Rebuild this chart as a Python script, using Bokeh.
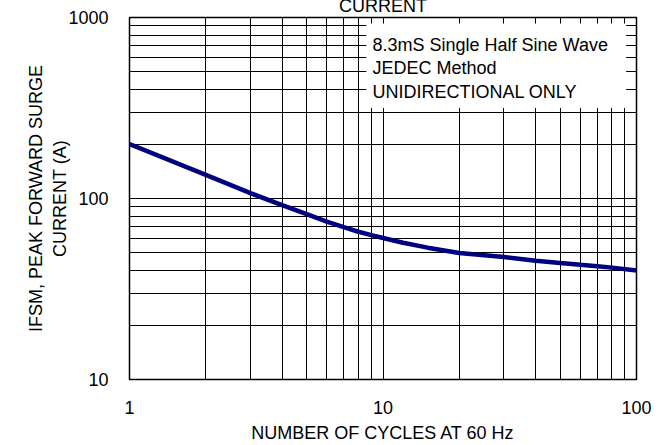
from bokeh.plotting import figure
from bokeh.models import FixedTicker, BoxAnnotation, Label
from bokeh.embed import file_html
from bokeh.resources import INLINE

# data
cycles = [1, 2, 3, 4, 5, 6, 7, 8, 9, 10, 12, 15, 20, 30, 40, 50, 60, 70, 80, 100]
ifsm = [200, 135, 107, 92, 82, 74.5, 69.5, 65.5, 62.8, 60.5, 57, 53.5, 50, 47.5, 45.3, 44, 43, 42.2, 41.5, 40]

x_major = [1, 10, 100]
x_minor = [2, 3, 4, 5, 6, 7, 8, 9, 20, 30, 40, 50, 60, 70, 80, 90]
y_major = [10, 100, 1000]
y_minor = [20, 30, 40, 50, 60, 70, 80, 90, 200, 300, 400, 500, 600, 700, 800, 900]

title_text = "CURRENT"
x_title = "NUMBER OF CYCLES AT 60 Hz"
y_title = "IFSM, PEAK FORWARD SURGE\nCURRENT (A)"

notes = ["8.3mS Single Half Sine Wave", "JEDEC Method", "UNIDIRECTIONAL ONLY"]
note_y = [701, 524, 386]
note_x = 9.09
box_left, box_right, box_bottom, box_top = 8.6, 91.0, 316, 927

FONT = "Liberation Sans"
FS = "18px"

p = figure(width=667, height=455, x_axis_type="log", y_axis_type="log",
           x_range=(1, 100), y_range=(10, 1000),
           output_backend="svg", toolbar_location=None,
           min_border_left=129, min_border_right=31,
           min_border_top=27, min_border_bottom=65)
p.margin = (-10, 0, 0, 0)
p.background_fill_color = "white"
p.border_fill_color = "white"
p.outline_line_color = "black"
p.outline_line_width = 1.5

p.title.text = title_text
p.title.align = "center"
p.title.text_font = FONT
p.title.text_font_size = FS
p.title.text_font_style = "normal"
p.title.text_color = "black"
p.title.standoff = 4
p.title.vertical_align = "bottom"

p.xaxis.ticker = FixedTicker(ticks=x_major, minor_ticks=x_minor)
p.yaxis.ticker = FixedTicker(ticks=y_major, minor_ticks=y_minor)
p.xaxis.major_label_overrides = {1: "1", 10: "10", 100: "100"}
p.yaxis.major_label_overrides = {10: "10", 100: "100", 1000: "1000"}

for ax in (p.xaxis, p.yaxis):
    ax.axis_line_color = None
    ax.major_tick_line_color = None
    ax.minor_tick_line_color = None
    ax.major_tick_out = 0
    ax.major_tick_in = 0
    ax.minor_tick_out = 0
    ax.minor_tick_in = 0
    ax.major_label_text_font = FONT
    ax.major_label_text_font_size = FS
    ax.major_label_text_color = "black"
    ax.axis_label_text_font = FONT
    ax.axis_label_text_font_size = FS
    ax.axis_label_text_font_style = "normal"
    ax.axis_label_text_color = "black"

p.xaxis.major_label_standoff = 21
p.yaxis.major_label_standoff = 21
p.xaxis.axis_label = x_title
p.xaxis.axis_label_standoff = 6
p.yaxis.axis_label = y_title
p.yaxis.axis_label_standoff = -5

for g in (p.xgrid, p.ygrid):
    g.grid_line_color = "black"
    g.grid_line_width = 1
    g.minor_grid_line_color = "black"
    g.minor_grid_line_width = 1

p.line(cycles, ifsm, line_color="#000080", line_width=4.5)

p.add_layout(BoxAnnotation(left=box_left, right=box_right, bottom=box_bottom, top=box_top,
                           fill_color="white", fill_alpha=1.0, line_color=None))
for t, yy in zip(notes, note_y):
    p.add_layout(Label(x=note_x, y=yy, text=t, text_font=FONT, text_font_size=FS,
                       text_baseline="middle", text_align="left", text_color="black"))

open("out.html", "w").write(file_html(p, INLINE))
